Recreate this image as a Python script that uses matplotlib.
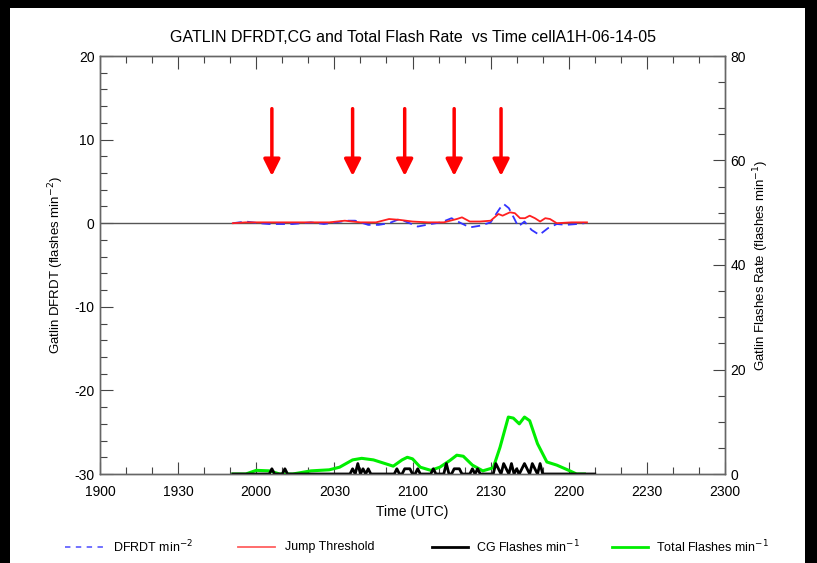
import matplotlib
matplotlib.use("Agg")
import matplotlib.pyplot as plt
from matplotlib.lines import Line2D
from matplotlib.patches import Rectangle
import numpy as np

plt.rcParams['font.family'] = ['Liberation Sans', 'DejaVu Sans']
plt.rcParams['axes.unicode_minus'] = False

# times are minutes after 1900 UTC
# DFRDT (blue dashed), vertices
t_dfrdt = [51, 56, 61, 65, 69, 74, 81, 86, 95, 98, 103, 107, 111, 115, 122, 127, 131,
           135, 138, 142, 146, 150, 153.6, 155, 157, 159, 160.6, 163, 165.7, 168.7, 172,
           175.4, 179, 183, 186]
dfrdt = [0.0, 0.2, 0.0, -0.1, -0.1, -0.1, 0.1, -0.1, 0.3, 0.3, -0.2, -0.2, 0.0, 0.5, -0.4,
         -0.1, 0.1, 0.6, 0.1, -0.5, -0.3, 0.1, 1.8, 2.3, 1.8, 0.6, -0.4, 0.2, -0.8, -1.4,
         -0.6, -0.1, -0.2, -0.1, 0.0]

# jump threshold (red)
t_jump = [51, 56, 64, 72, 80, 88, 94, 100, 106, 111, 115, 120, 126, 132, 137, 139, 142, 146,
          150, 153, 154.6, 157.4, 159.3, 161.3, 163.2, 165, 167, 169, 171, 172.8, 175.4, 181, 187]
jump = [0.0, 0.1, 0.1, 0.1, 0.1, 0.1, 0.3, 0.1, 0.1, 0.5, 0.4, 0.2, 0.1, 0.1, 0.5, 0.7, 0.2,
        0.2, 0.3, 1.1, 0.9, 1.3, 1.2, 0.6, 0.6, 0.9, 0.6, 0.2, 0.6, 0.5, 0.0, 0.1, 0.1]

# total flashes (green)
t_total = [51, 56, 60, 65, 69, 74, 81, 88, 92, 97, 100.5, 105, 112.6, 116, 118, 120, 123,
           127, 130.5, 134.4, 137, 139.5, 143, 147, 151, 153.6, 156.8, 158.7, 161, 163, 165,
           168, 171.6, 175.4, 180, 183, 186]
total = [0, 0, 0.7, 0.6, 0, 0, 0.6, 0.8, 1.3, 2.7, 3.0, 2.7, 1.5, 2.7, 3.2, 2.9, 1.3,
         0.7, 1.3, 2.6, 3.6, 3.4, 1.7, 0.6, 1.2, 5.1, 10.9, 10.7, 9.6, 10.9, 10.2,
         5.8, 2.3, 1.7, 0.7, 0, 0]

# CG flashes (black), one value per minute from 51 to 190
cg_start, cg_end = 51, 190
cg_min = [66, 71, 97, 99, 101, 103, 114, 117, 118, 119, 122, 128, 133, 136, 137, 138, 143, 145,
          152, 153, 155, 156, 158, 160, 162, 163, 164, 166, 167, 169]
cg_cnt = [1, 1, 1, 2, 1, 1, 1, 1, 1, 1, 1, 1, 2, 1, 1, 1, 1, 1,
          2, 1, 2, 1, 2, 1, 1, 2, 1, 2, 1, 2]

# red arrows (jump times), minutes after 1900
arrow_times = [66, 97, 117, 136, 154]

xticks = np.arange(0, 241, 30)
xlabels = ['1900', '1930', '2000', '2030', '2100', '2130', '2200', '2230', '2300']

t_cg = np.arange(cg_start, cg_end + 1)
cg = np.zeros(len(t_cg))
for m, c in zip(cg_min, cg_cnt):
    cg[m - cg_start] = c

fig = plt.figure(figsize=(8.17, 5.63), dpi=100, facecolor='black')
fig.patches.append(Rectangle((10 / 817, 0), 795 / 817, 1 - 8 / 563, transform=fig.transFigure,
                             facecolor='white', edgecolor='none', zorder=-10))

ax = fig.add_axes([100 / 817, 1 - 474 / 563, 625 / 817, 418 / 563])
ax.set_facecolor('none')
ax2 = ax.twinx()

ax.axhline(0, color='#555555', lw=1)
ax.plot(t_dfrdt, dfrdt, color='#3333ff', lw=1.3, ls=(0, (5, 3)))
ax.plot(t_jump, jump, color='#ff2020', lw=1.3)

for t in arrow_times:
    ax.annotate('', xy=(t, 5.65), xytext=(t, 13.7),
                arrowprops=dict(arrowstyle='-|>,head_width=0.5,head_length=1.0',
                                color='#ff0000', lw=2.5, shrinkA=0, shrinkB=0))

ax2.plot(t_total, total, color='#00ee00', lw=2.2)
ax2.plot(t_cg, cg, color='black', lw=2.0)

ax.set_xlim(0, 240)
ax.set_ylim(-30, 20)
ax2.set_ylim(0, 80)

ax.set_xticks(xticks)
ax.set_xticklabels(xlabels)
ax.set_xticks(np.arange(0, 241, 10), minor=True)
ax.set_yticks(np.arange(-30, 21, 10))
ax.set_yticks(np.arange(-30, 21, 2), minor=True)
ax2.set_yticks(np.arange(0, 81, 20))
ax2.set_yticks(np.arange(0, 81, 5), minor=True)

for a in (ax, ax2):
    a.tick_params(which='major', direction='in', length=9, width=0.8, color='#444444',
                  labelsize=10, top=True)
    a.tick_params(which='minor', direction='in', length=5, width=0.8, color='#444444', top=True)
    for s in a.spines.values():
        s.set_color('#666666')
        s.set_linewidth(1)
ax.tick_params(axis='x', pad=8)
ax.tick_params(axis='y', pad=4)
ax2.tick_params(axis='y', pad=4)

ax.set_xlabel('Time (UTC)', fontsize=10, labelpad=4)
ax.set_ylabel('Gatlin DFRDT (flashes min$^{-2}$)', fontsize=9.5, labelpad=6)
ax2.set_ylabel('Gatlin Flashes Rate (flashes min$^{-1}$)', fontsize=9.5, labelpad=4)
ax.set_title('GATLIN DFRDT,CG and Total Flash Rate  vs Time cellA1H-06-14-05', fontsize=11.5, pad=10)

# legend row along the bottom
ly = 1 - 547 / 563
items = [(65, 105, '#6666ff', (0, (3, 3)), 1.3, 113, 'DFRDT min$^{-2}$'),
         (238, 275, '#ff6060', '-', 1.3, 285, 'Jump Threshold'),
         (432, 468, 'black', '-', 2.0, 476, 'CG Flashes min$^{-1}$'),
         (612, 648, '#00ee00', '-', 2.0, 656, 'Total Flashes min$^{-1}$')]
for x0, x1, c, ls, lw, tx, label in items:
    fig.lines.append(Line2D([x0 / 817, x1 / 817], [ly, ly], transform=fig.transFigure,
                            color=c, ls=ls, lw=lw))
    fig.text(tx / 817, ly, label, fontsize=9, va='center', ha='left')

fig.savefig('out.png', dpi=100, facecolor=fig.get_facecolor())
